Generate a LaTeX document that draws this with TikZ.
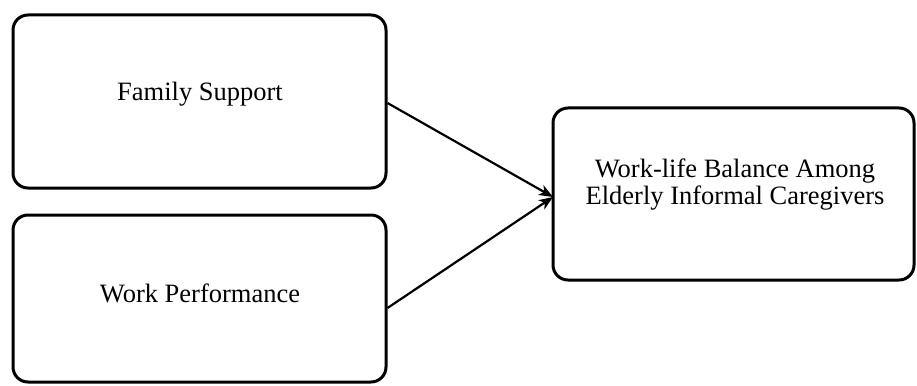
\documentclass[tikz,border=0pt]{standalone}
\usepackage{fontspec}
\setmainfont{Liberation Serif}
\usetikzlibrary{arrows.meta}
\begin{document}
\begin{tikzpicture}[x=1pt,y=-1pt,
  box/.style={draw, line width=3pt, rounded corners=15pt, inner sep=0pt},
  txt/.style={anchor=base, inner sep=0pt, font=\fontsize{26.5}{28}\selectfont},
  conn/.style={line width=2.2pt, -{Stealth[length=14pt,width=11pt,inset=4pt]}}]
\useasboundingbox (0,0) rectangle (917,385);
\node[box, minimum width=373pt, minimum height=173pt] (fs) at (199.5,101.5) {};
\node[box, minimum width=373pt, minimum height=167pt] (wp) at (199.5,298.5) {};
\node[box, minimum width=361pt, minimum height=172pt] (wlb) at (733.5,194) {};
\node[txt] (fst) at (200,101) {Family Support};
\node[txt] (wpt) at (200,302) {Work Performance};
\node[txt] (wlb1) at (735,177) {Work-life Balance Among};
\node[txt] (wlb2) at (735,204) {Elderly Informal Caregivers};
\coordinate (t) at (553,197);
\draw[conn] (fs.east |- 0,103) -- (t);
\draw[conn] (wp.east |- 0,308) -- (t);
\end{tikzpicture}
\end{document}
